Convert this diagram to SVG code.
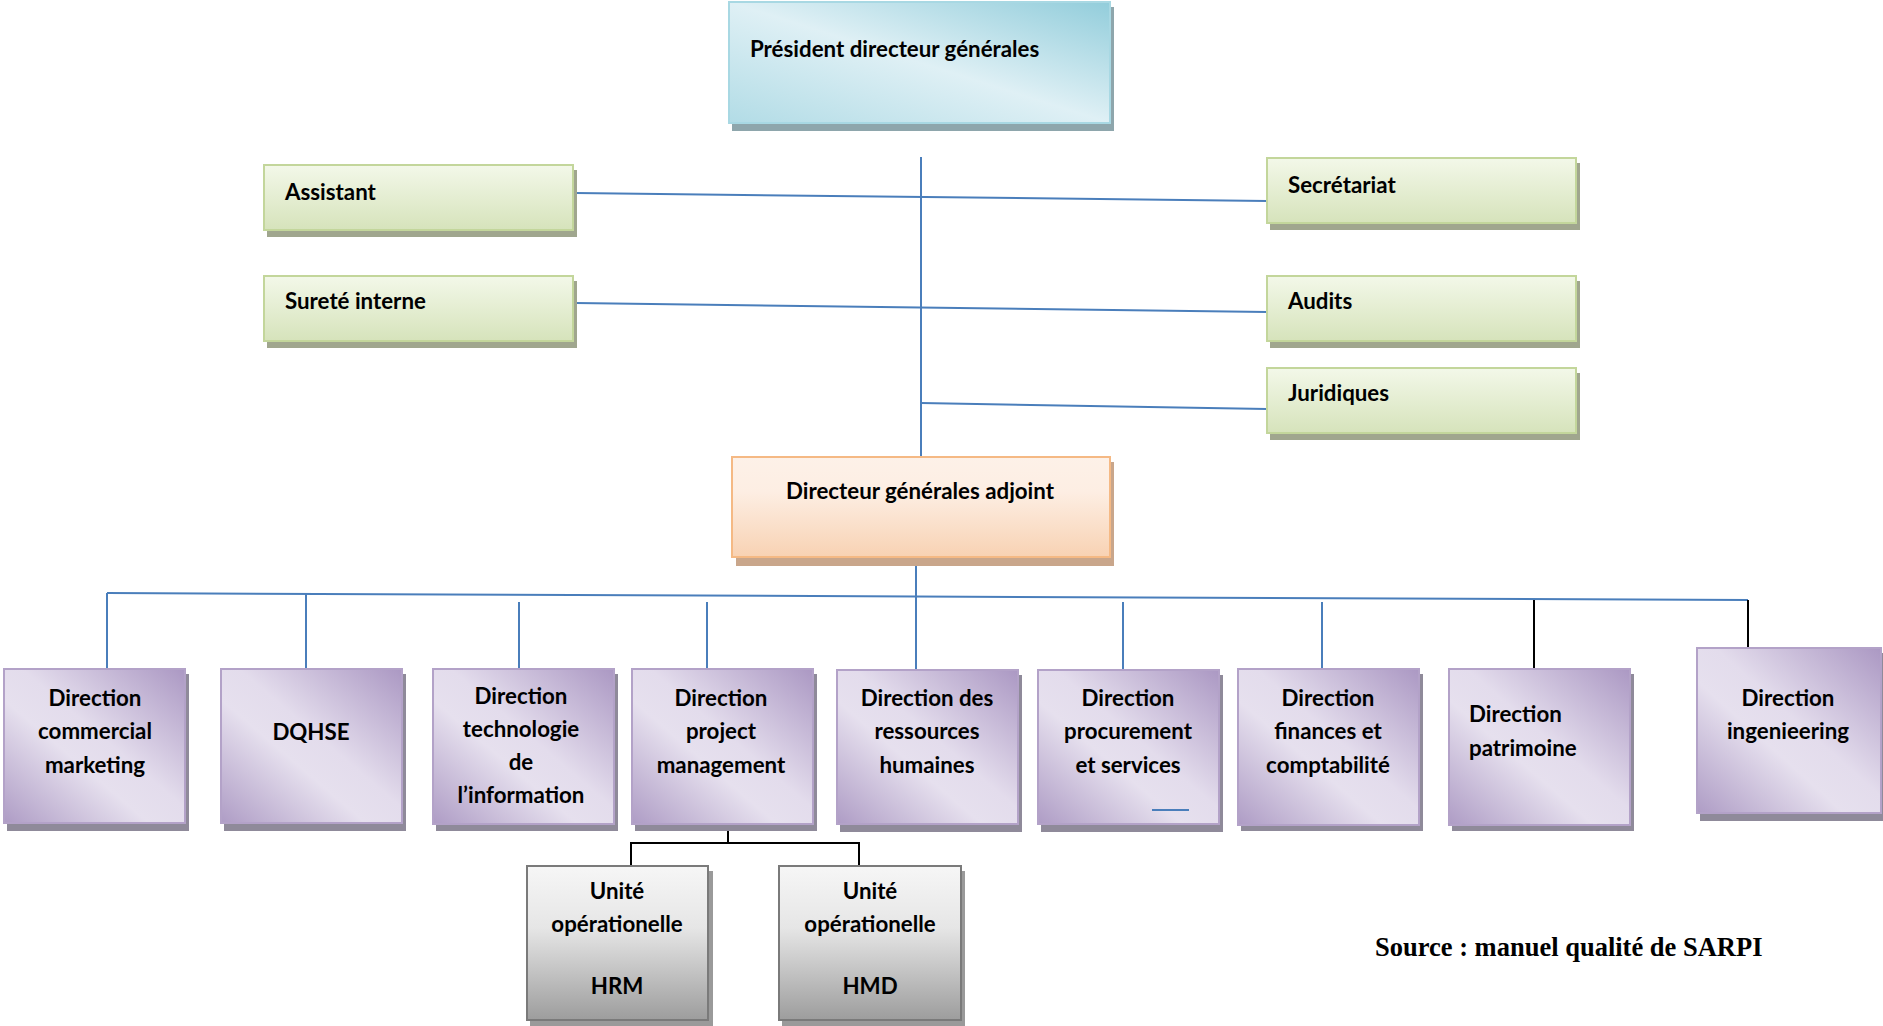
<svg xmlns="http://www.w3.org/2000/svg" width="1883" height="1026" viewBox="0 0 1883 1026">
<style>
.t{font-family:Lato,"Open Sans",sans-serif;font-weight:bold;font-size:22.3px;fill:#000}
.c{text-anchor:middle}
.src{font-family:"Liberation Serif","Times New Roman",serif;font-weight:bold;font-size:26.5px;fill:#000}
.blue{stroke:#4a7ebb;stroke-width:2;fill:none}
.blk{stroke:#000;stroke-width:2;fill:none}
.green{fill:url(#gGreen);stroke:#c3d69b;stroke-width:2}
.purple{fill:url(#gPurple);stroke:#b3a2c8;stroke-width:2}
.gray{fill:url(#gGray);stroke:#7a7a7a;stroke-width:2}
</style>
<defs>
<linearGradient id="gGreen" x1="0" y1="0" x2="0" y2="1">
<stop offset="0" stop-color="#f3f8e9"/><stop offset="1" stop-color="#d6e3bb"/>
</linearGradient>
<linearGradient id="gPurple" x1="1" y1="0" x2="0" y2="1">
<stop offset="0" stop-color="#ab98c3"/><stop offset="0.45" stop-color="#e3dcec"/><stop offset="0.6" stop-color="#e6e0ee"/><stop offset="1" stop-color="#ae9cc5"/>
</linearGradient>
<linearGradient id="gBlue" x1="1" y1="0" x2="0" y2="1">
<stop offset="0" stop-color="#92cddb"/><stop offset="0.5" stop-color="#dff0f5"/><stop offset="1" stop-color="#b2dce6"/>
</linearGradient>
<linearGradient id="gPeach" x1="0" y1="0" x2="0" y2="1">
<stop offset="0" stop-color="#fdf1e8"/><stop offset="0.35" stop-color="#fdeee3"/><stop offset="1" stop-color="#f8d2b3"/>
</linearGradient>
<linearGradient id="gGray" x1="0" y1="0" x2="0" y2="1">
<stop offset="0" stop-color="#f6f6f6"/><stop offset="0.4" stop-color="#e6e6e6"/><stop offset="1" stop-color="#9d9d9d"/>
</linearGradient>
</defs>

<g id="connectors">
<line class="blue" x1="921" y1="157" x2="921" y2="457"/>
<line class="blue" x1="576" y1="193" x2="1267" y2="201"/>
<line class="blue" x1="576" y1="303" x2="1267" y2="312"/>
<line class="blue" x1="921" y1="403" x2="1267" y2="409"/>
<line class="blue" x1="916" y1="565" x2="916" y2="677"/>
<line class="blue" x1="107" y1="593" x2="1748" y2="600"/>
<line class="blue" x1="107" y1="593" x2="107" y2="670"/>
<line class="blue" x1="306" y1="594" x2="306" y2="670"/>
<line class="blue" x1="519" y1="602" x2="519" y2="670"/>
<line class="blue" x1="707" y1="602" x2="707" y2="677"/>
<line class="blue" x1="1123" y1="602" x2="1123" y2="677"/>
<line class="blue" x1="1322" y1="602" x2="1322" y2="677"/>
<line class="blk" x1="1534" y1="600" x2="1534" y2="670"/>
<line class="blk" x1="1748" y1="600" x2="1748" y2="670"/>
<polyline class="blk" points="728,825 728,843"/>
<polyline class="blk" points="631,867 631,843 859,843 859,867"/>
</g>

<g id="pdg">
<rect x="732" y="7" width="382" height="124" fill="#8ea6ac"/>
<rect x="729" y="2" width="381" height="121" fill="url(#gBlue)" stroke="#a8d8e3" stroke-width="2"/>
<text class="t" x="750" y="57">Président directeur générales</text>
</g>

<g id="assistant">
<rect x="267" y="170" width="310" height="67" fill="#a0a68e"/>
<rect class="green" x="264" y="165" width="309" height="65"/>
<text class="t" x="285" y="200">Assistant</text>
</g>

<g id="surete">
<rect x="267" y="281" width="310" height="67" fill="#a0a68e"/>
<rect class="green" x="264" y="276" width="309" height="65"/>
<text class="t" x="285" y="309">Sureté interne</text>
</g>

<g id="secretariat">
<rect x="1270" y="163" width="310" height="67" fill="#a0a68e"/>
<rect class="green" x="1267" y="158" width="309" height="65"/>
<text class="t" x="1288" y="193">Secrétariat</text>
</g>

<g id="audits">
<rect x="1270" y="281" width="310" height="67" fill="#a0a68e"/>
<rect class="green" x="1267" y="276" width="309" height="65"/>
<text class="t" x="1288" y="309">Audits</text>
</g>

<g id="juridiques">
<rect x="1270" y="373" width="310" height="67" fill="#a0a68e"/>
<rect class="green" x="1267" y="368" width="309" height="65"/>
<text class="t" x="1288" y="401">Juridiques</text>
</g>

<g id="dga">
<rect x="736" y="462" width="378" height="104" fill="#c9a68b"/>
<rect x="732" y="457" width="378" height="100" fill="url(#gPeach)" stroke="#f5b984" stroke-width="2"/>
<text class="t c" x="920" y="499">Directeur générales adjoint</text>
</g>

<g id="d-commercial">
<rect x="7" y="674" width="182" height="157" fill="#8f8a9a"/>
<rect class="purple" x="4" y="669" width="181" height="154"/>
<text class="t c" x="95" y="706">Direction</text>
<text class="t c" x="95" y="739">commercial</text>
<text class="t c" x="95" y="773">marketing</text>
</g>

<g id="dqhse">
<rect x="224" y="674" width="182" height="157" fill="#8f8a9a"/>
<rect class="purple" x="221" y="669" width="181" height="154"/>
<text class="t c" x="311" y="740">DQHSE</text>
</g>

<g id="d-technologie">
<rect x="436" y="674" width="182" height="157" fill="#8f8a9a"/>
<rect class="purple" x="433" y="669" width="181" height="155"/>
<text class="t c" x="521" y="704">Direction</text>
<text class="t c" x="521" y="737">technologie</text>
<text class="t c" x="521" y="770">de</text>
<text class="t c" x="521" y="803">l’information</text>
</g>

<g id="d-project">
<rect x="635" y="674" width="182" height="157" fill="#8f8a9a"/>
<rect class="purple" x="632" y="669" width="181" height="155"/>
<text class="t c" x="721" y="706">Direction</text>
<text class="t c" x="721" y="739">project</text>
<text class="t c" x="721" y="773">management</text>
</g>

<g id="d-rh">
<rect x="840" y="675" width="182" height="157" fill="#8f8a9a"/>
<rect class="purple" x="837" y="670" width="181" height="154"/>
<text class="t c" x="927" y="706">Direction des</text>
<text class="t c" x="927" y="739">ressources</text>
<text class="t c" x="927" y="773">humaines</text>
</g>

<g id="d-procurement">
<rect x="1041" y="675" width="182" height="157" fill="#8f8a9a"/>
<rect class="purple" x="1038" y="670" width="181" height="154"/>
<text class="t c" x="1128" y="706">Direction</text>
<text class="t c" x="1128" y="739">procurement</text>
<text class="t c" x="1128" y="773">et services</text>
<line x1="1152" y1="810" x2="1189" y2="810" stroke="#4a7ebb" stroke-width="2"/>
</g>

<g id="d-finances">
<rect x="1241" y="674" width="182" height="157" fill="#8f8a9a"/>
<rect class="purple" x="1238" y="669" width="181" height="156"/>
<text class="t c" x="1328" y="706">Direction</text>
<text class="t c" x="1328" y="739">finances et</text>
<text class="t c" x="1328" y="773">comptabilité</text>
</g>

<g id="d-patrimoine">
<rect x="1452" y="674" width="182" height="157" fill="#8f8a9a"/>
<rect class="purple" x="1449" y="669" width="181" height="156"/>
<text class="t" x="1469" y="722">Direction</text>
<text class="t" x="1469" y="756">patrimoine</text>
</g>

<g id="d-ingenieering">
<rect x="1700" y="653" width="183" height="168" fill="#8f8a9a"/>
<rect class="purple" x="1697" y="648" width="184" height="165"/>
<text class="t c" x="1788" y="706">Direction</text>
<text class="t c" x="1788" y="739">ingenieering</text>
</g>

<g id="u-hrm">
<rect x="530" y="871" width="183" height="155" fill="#9a9a9a"/>
<rect class="gray" x="527" y="866" width="181" height="154"/>
<text class="t c" x="617" y="899">Unité</text>
<text class="t c" x="617" y="932">opérationelle</text>
<text class="t c" x="617" y="994">HRM</text>
</g>

<g id="u-hmd">
<rect x="782" y="871" width="183" height="155" fill="#9a9a9a"/>
<rect class="gray" x="779" y="866" width="182" height="154"/>
<text class="t c" x="870" y="899">Unité</text>
<text class="t c" x="870" y="932">opérationelle</text>
<text class="t c" x="870" y="994">HMD</text>
</g>

<text class="src" x="1375" y="956">Source : manuel qualité de SARPI</text>
</svg>
